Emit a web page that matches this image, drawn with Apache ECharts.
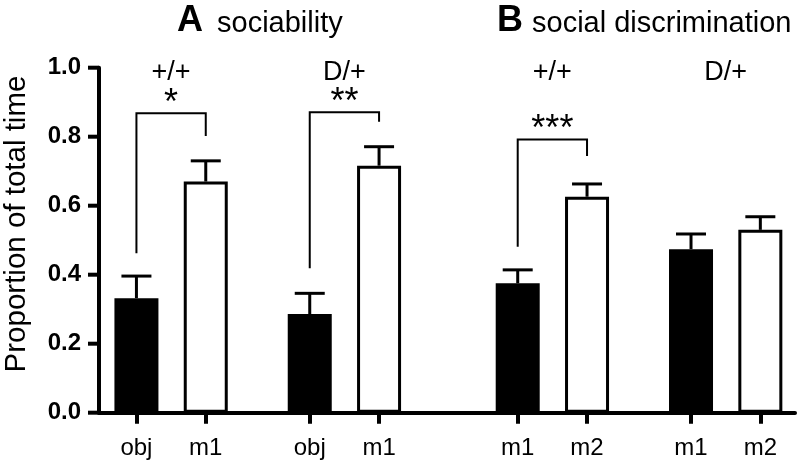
<!DOCTYPE html>
<html><head><meta charset="utf-8">
<script src="https://cdn.jsdelivr.net/npm/echarts@6/dist/echarts.min.js"></script>
<style>html,body{margin:0;padding:0;background:#fff}#c{width:798px;height:464px}</style>
</head><body><div id="c"></div>
<script>
// ---- data ----
const barLabels = ['obj', 'm1', 'obj', 'm1', 'm1', 'm2', 'm1', 'm2'];
const groupLabels = ['+/+', 'D/+', '+/+', 'D/+'];
const panelLetters = ['A', 'B'];
const panelTitles = ['sociability', 'social discrimination'];
const meanValues = [0.332, 0.670, 0.286, 0.716, 0.375, 0.626, 0.474, 0.530];
const semValues = [0.064, 0.060, 0.060, 0.055, 0.039, 0.037, 0.044, 0.038];
const filledBar = [true, false, true, false, true, false, true, false];
const yTicks = [0, 0.2, 0.4, 0.6, 0.8, 1.0];
const sigMarks = ['*', '**', '***'];
const sigPairs = [[0, 1], [2, 3], [4, 5]];
const bracketTop = [0.868, 0.871, 0.792];
const bracketLeftEnd = [0.462, 0.419, 0.481];
const bracketRightEnd = [0.802, 0.843, 0.744];
const groupLabelLevel = 0.985;

// ---- layout of bars along the x axis (pairs, gaps between groups/panels) ----
function slotOf(i) {
  const g = Math.floor(i / 2), w = i % 2;
  return g * 5 + (g >= 2 ? 1 : 0) + w * 2;
}
const slots = barLabels.map((_, i) => slotOf(i));
const groupCenters = groupLabels.map((_, g) => (slots[2 * g] + slots[2 * g + 1]) / 2);

const FONT = "'Liberation Sans', Arial, Helvetica, sans-serif";
const chart = echarts.init(document.getElementById('c'), null, {renderer: 'canvas'});

function txt(extra) {
  return Object.assign({fontFamily: FONT, fill: '#000', textAlign: 'left', textVerticalAlign: 'middle', align: 'left', verticalAlign: 'middle'}, extra);
}

const option = {
  animation: false,
  backgroundColor: '#fff',
  grid: {left: 99, right: 3, top: 67.7, bottom: 51.3, containLabel: false},
  xAxis: {
    type: 'value', min: -1.08, max: 19,
    axisLine: {show: true, onZero: false, lineStyle: {color: '#000', width: 4}},
    axisTick: {show: true, customValues: slots, length: 11, lineStyle: {color: '#000', width: 4}},
    axisLabel: {
      customValues: slots, margin: 24, color: '#000', fontSize: 24, fontFamily: FONT,
      formatter: v => { const i = slots.indexOf(Math.round(v)); return i >= 0 ? barLabels[i] : ''; }
    },
    splitLine: {show: false}
  },
  yAxis: {
    type: 'value', min: 0, max: 1, interval: 0.2,
    axisLine: {show: true, onZero: false, lineStyle: {color: '#000', width: 4}},
    axisTick: {show: false},
    axisLabel: {
      margin: 18, color: '#000', fontSize: 24, fontWeight: 'bold', fontFamily: FONT,
      formatter: v => yTicks.indexOf(Math.round(v * 10) / 10) >= 0 ? v.toFixed(1) : ''
    },
    splitLine: {show: false}
  },
  graphic: [
    {type: 'text', x: 177, y: 21, style: txt({text: panelLetters[0], fontSize: 36, fontWeight: 'bold'})},
    {type: 'text', x: 217, y: 24, style: txt({text: panelTitles[0], fontSize: 29})},
    {type: 'text', x: 497, y: 21, style: txt({text: panelLetters[1], fontSize: 36, fontWeight: 'bold'})},
    {type: 'text', x: 532, y: 24, style: txt({text: panelTitles[1], fontSize: 29})},
    {type: 'text', x: 17, y: 224, rotation: Math.PI / 2, style: txt({text: 'Proportion of total time', fontSize: 29.5, textAlign: 'center', align: 'center'})}
  ],
  series: [
    {
      // y-axis tick marks at each labelled value
      type: 'custom', z: 5, clip: false,
      data: yTicks.map(v => [0, v]),
      renderItem: (params, api) => {
        const y = api.coord([0, api.value(1)])[1];
        const x0 = params.coordSys.x;
        return {type: 'line', shape: {x1: x0 - 11, y1: y, x2: x0, y2: y}, style: {stroke: '#000', lineWidth: 4}};
      }
    },
    {
      type: 'bar', barWidth: 44, z: 3,
      data: slots.map((s, i) => ({
        value: [s, meanValues[i]],
        itemStyle: {color: filledBar[i] ? '#000' : '#fff', borderColor: '#000', borderWidth: 3}
      }))
    },
    {
      type: 'custom', z: 2,
      data: slots.map((s, i) => [s, meanValues[i], semValues[i]]),
      renderItem: (params, api) => {
        const x = api.value(0), m = api.value(1), e = api.value(2);
        const p0 = api.coord([x, m]), p1 = api.coord([x, m + e]);
        return {type: 'group', children: [
          {type: 'line', shape: {x1: p0[0], y1: p0[1], x2: p1[0], y2: p1[1]}, style: {stroke: '#000', lineWidth: 3}},
          {type: 'line', shape: {x1: p1[0] - 15, y1: p1[1], x2: p1[0] + 15, y2: p1[1]}, style: {stroke: '#000', lineWidth: 3}}
        ]};
      }
    },
    {
      type: 'custom', z: 4,
      data: sigPairs.map((p, k) => [slots[p[0]], slots[p[1]], bracketTop[k], bracketLeftEnd[k], bracketRightEnd[k], k]),
      renderItem: (params, api) => {
        const xl = api.value(0), xr = api.value(1), t = api.value(2), lb = api.value(3), rb = api.value(4);
        const k = api.value(5);
        const a = api.coord([xl, lb]), b = api.coord([xl, t]), c = api.coord([xr, t]), d = api.coord([xr, rb]);
        return {type: 'group', children: [
          {type: 'polyline', shape: {points: [a, b, c, d]}, style: {stroke: '#000', lineWidth: 2, fill: null}},
          {type: 'text', x: (b[0] + c[0]) / 2, y: b[1] - 9, style: txt({text: sigMarks[k], fontSize: 36, textAlign: 'center', align: 'center'})}
        ]};
      }
    },
    {
      type: 'custom', z: 4,
      data: groupCenters.map((c, g) => [c, groupLabelLevel, g]),
      renderItem: (params, api) => {
        const p = api.coord([api.value(0), api.value(1)]);
        return {type: 'text', x: p[0], y: p[1], style: txt({text: groupLabels[api.value(2)], fontSize: 27, textAlign: 'center', align: 'center'})};
      }
    }
  ]
};
chart.setOption(option);
</script></body></html>
